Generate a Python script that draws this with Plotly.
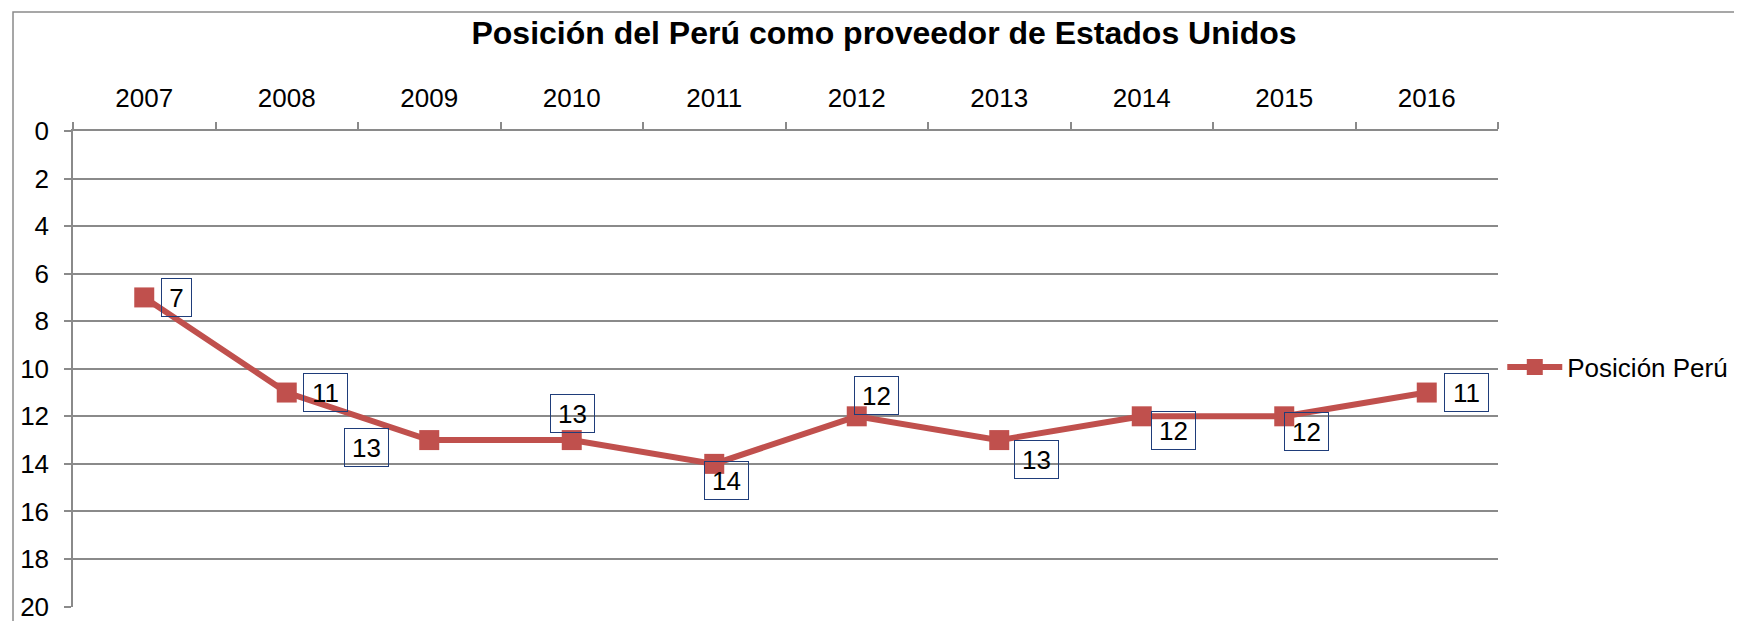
import plotly.graph_objects as go

# data
years = ["2007", "2008", "2009", "2010", "2011", "2012", "2013", "2014", "2015", "2016"]
posicion = [7, 11, 13, 13, 14, 12, 13, 12, 12, 11]
y_ticks = [0, 2, 4, 6, 8, 10, 12, 14, 16, 18, 20]

# where each data label sits relative to its point (px, right / down)
label_dx = [32, 39, -63, 1, 12, 20, 37, 32, 22, 40]
label_dy = [0, 0, 7, -27, 17, -21, 19, 14, 15, 0]

RED = "#C0504D"
GRID = "#8a8a8a"
FONT = "Liberation Sans, Arial, sans-serif"

fig = go.Figure()
fig.add_trace(go.Scatter(
    x=years, y=posicion,
    mode="lines+markers",
    name="Posición Perú",
    line=dict(color=RED, width=6),
    marker=dict(symbol="square", size=20, color=RED),
))

# category index for each label (numeric x on a category axis = position)
for i, (val, dx, dy) in enumerate(zip(posicion, label_dx, label_dy)):
    fig.add_annotation(
        x=i, y=val, text=str(val), showarrow=False,
        xshift=dx, yshift=-dy,
        font=dict(size=26, color="black", family=FONT),
        bordercolor="#1F3D7A", borderwidth=1, borderpad=0,
        width=29 if len(str(val)) == 1 else 43, height=37,
    )

# outer chart border (top and left visible)
fig.add_shape(type="rect", xref="paper", yref="paper",
              x0=-0.0421, x1=1.2, y0=-0.2, y1=1.25,
              line=dict(color=GRID, width=1.5), layer="below")

# the page body adds an 8px offset, so margins are pulled in by 8px
fig.update_layout(
    width=1742, height=621,
    margin=dict(l=65, r=252, t=123, b=22, autoexpand=False),
    paper_bgcolor="white", plot_bgcolor="white",
    font=dict(family=FONT, size=26, color="black"),
    title=dict(text="<b>Posición del Perú como proveedor de Estados Unidos</b>",
               font=dict(size=32, family=FONT, color="black"),
               x=(876 / 1742), xanchor="center", y=0.96, yanchor="middle"),
    showlegend=True,
    legend=dict(x=1.003, xanchor="left", y=0.504, yanchor="middle",
                itemwidth=55, font=dict(size=26, family=FONT),
                bgcolor="rgba(0,0,0,0)"),
)

fig.update_xaxes(
    type="category", side="top", range=[-0.5, len(years) - 0.5],
    showline=True, linecolor=GRID, linewidth=1.5,
    ticks="outside", ticklen=7, tickcolor=GRID, tickwidth=1.5,
    tickson="boundaries", showgrid=False, tickangle=0, automargin=False,
    tickfont=dict(size=26), ticklabelstandoff=12,
)
fig.update_yaxes(
    range=[20.02, 0], tickvals=y_ticks,
    showline=True, linecolor=GRID, linewidth=1.5,
    ticks="outside", ticklen=7, tickcolor=GRID, tickwidth=1.5,
    showgrid=True, gridcolor=GRID, gridwidth=1.5, zeroline=False,
    automargin=False, ticklabeloverflow="allow",
    tickfont=dict(size=26), ticklabelstandoff=10,
)

fig.write_html("out.html")
